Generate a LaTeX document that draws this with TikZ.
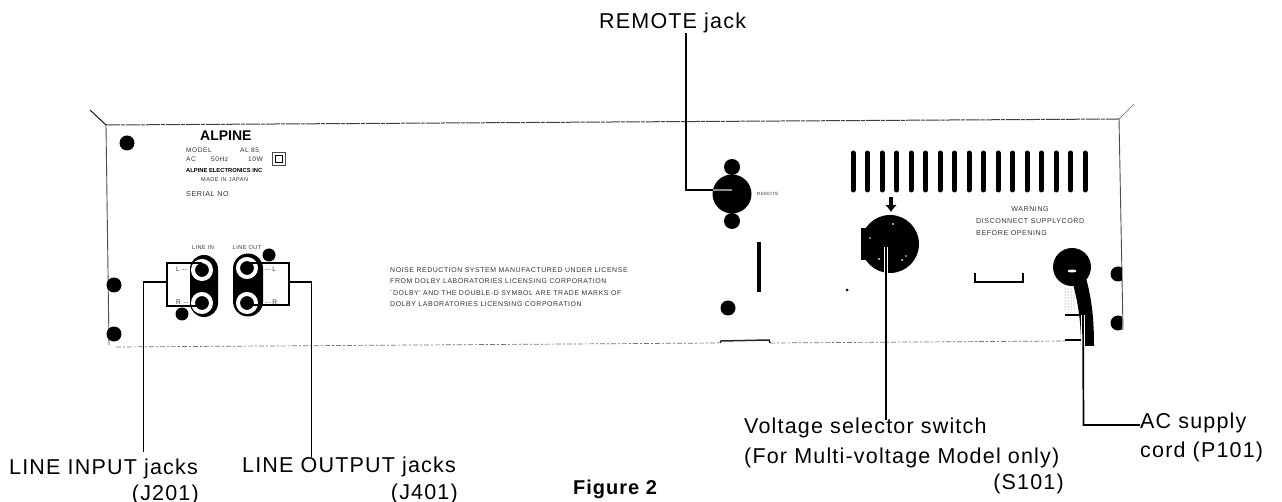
\documentclass[tikz,border=0pt]{standalone}
\usepackage{fontspec}
\usetikzlibrary{arrows.meta,patterns}
\setmainfont{Liberation Sans}
\newfontfamily\lblfont[LetterSpace=5.5]{Liberation Sans}
\newfontfamily\tinyfont[LetterSpace=8]{Liberation Sans}
\newfontfamily\figfont[LetterSpace=5,BoldFont={Liberation Sans Bold}]{Liberation Sans}
\tikzset{
  lbl/.style={inner sep=0pt,font=\lblfont\fontsize{21.5}{22}\selectfont},
  panel/.style={inner sep=0pt,text=black!80,font=\tinyfont\fontsize{6.6}{7}\selectfont},
  conn/.style={draw=black,line width=1.7pt,line join=miter},
  edge line/.style={draw=black!70,line width=0.9pt},
  faint line/.style={draw=black!75,line width=1pt,dash pattern=on 14pt off 1pt on 4pt off 1pt},
  loose line/.style={draw=black!55,line width=0.7pt,dash pattern=on 5pt off 2pt on 2pt off 2pt},
  blob/.style={circle,fill=black,draw=none,inner sep=0pt},
  vent/.style={line width=5pt,line cap=round,draw=black},
  speck/.style={fill=white,draw=none}
}
\begin{document}
\begin{tikzpicture}[x=1pt,y=-1pt]
\useasboundingbox[fill=white] (0,0) rectangle (1282,502);
% panel outline
\coordinate (tl) at (106,125);
\coordinate (tr) at (1119,119);
\coordinate (bl) at (109,345);
\coordinate (br) at (1123,330);
\coordinate (tltick) at (90,110);
\coordinate (trtick) at (1134,104);
\coordinate (bs) at (116,347);
\coordinate (be) at (720,343);
\coordinate (bs2) at (770,343);
\coordinate (be2) at (1065,341);
\draw[faint line] (tl) -- (tr);
\draw[edge line] (tl) -- (bl);
\draw[edge line] (tr) -- (br);
\draw[draw=black,line width=0.9pt] (tltick) -- (tl);
\draw[draw=black!60,line width=0.6pt] (trtick) -- (tr);
\draw[loose line] (bs) -- (be);
\draw[loose line] (bs2) -- (be2);
\draw[draw=black!85,line width=1.5pt] (720,343) -- (721,341) -- (769,340) -- (770,343);
% screws
\node[blob,minimum size=15pt] (s1) at (127,143) {};
\begin{scope}
\clip (100,270) rectangle (122,345);
\node[blob,minimum size=15pt] (s2) at (114,285) {};
\node[blob,minimum size=15pt] (s3) at (114,334) {};
\end{scope}
\begin{scope}
\clip (1100,260) rectangle (1122,335);
\node[blob,minimum size=15pt] (s4) at (1118,274) {};
\node[blob,minimum size=15pt] (s5) at (1118,323) {};
\end{scope}
\node[blob,minimum size=13pt] (s6) at (182,314) {};
\node[blob,minimum size=13pt] (s7) at (269,255) {};
\node[blob,minimum size=15pt] (s8) at (728,308) {};
\node[blob,minimum size=3pt] (s9) at (847,290) {};
% vents
\foreach \i in {0,...,16}{
  \draw[vent] ({853+\i*14.5},153) -- ({853+\i*14.5},190);
}
% badge text
\node[inner sep=0pt,anchor=west,font=\bfseries\fontsize{14}{14}\selectfont] (logo) at (200,135.5) {ALPINE};
\node[panel,anchor=west] (m1) at (186,150) {MODEL};
\node[panel,anchor=west] (m2) at (240,150) {AL 85};
\node[panel,anchor=west] (m3) at (186,159) {AC};
\node[panel,anchor=west] (m4) at (211,159) {50Hz};
\node[panel,anchor=west] (m5) at (248,159) {10W};
\node[draw=black!70,line width=1pt,minimum size=13pt,inner sep=0pt] (dbox) at (279,159) {};
\node[draw=black,line width=0.9pt,minimum size=7pt,inner sep=0pt] (dinner) at (279,159) {};
\node[inner sep=0pt,anchor=west,font=\bfseries\fontsize{5.8}{6}\selectfont] (m6) at (186,171) {ALPINE ELECTRONICS INC};
\node[panel,anchor=west,font=\tinyfont\fontsize{5.6}{6}\selectfont] (m7) at (201,180) {MADE IN JAPAN};
\node[panel,anchor=west,font=\tinyfont\fontsize{7.2}{8}\selectfont] (m8) at (186,194) {SERIAL NO};
% line jacks
\node[panel,font=\tinyfont\fontsize{5.6}{6}\selectfont] (lin) at (203,248) {LINE IN};
\node[panel,font=\tinyfont\fontsize{5.6}{6}\selectfont] (lout) at (247,248) {LINE OUT};
\node[fill=black,draw=none,rounded corners=14pt,minimum width=28pt,minimum height=62pt,inner sep=0pt] (inplate) at (204,286) {};
\node[fill=black,draw=none,rounded corners=15pt,minimum width=30pt,minimum height=63pt,inner sep=0pt] (outplate) at (248,285) {};
\foreach \n/\x/\y in {il/202/270,ir/202/303,ol/247/268,or/247/303}{
  \node[circle,fill=black,draw=white,line width=4pt,minimum size=18pt,inner sep=0pt] (\n) at (\x,\y) {};
}
\node[panel,anchor=west] (tl1) at (176,269) {L --};
\node[panel,anchor=west] (tl2) at (176,302) {R --};
\node[panel,anchor=west] (tl3) at (265,269) {-- L};
\node[panel,anchor=west] (tl4) at (265,302) {-- R};
\coordinate (ola) at (289,263);
\coordinate (olb) at (289,305);
\coordinate (ila) at (167,263);
\coordinate (ilb) at (167,306);
\draw[conn] (247,263) -- (ola) -- (olb) -- (247,305);
\draw[conn] (202,263) -- (ila) -- (ilb) -- (202,306);
% notice
\node[panel,anchor=west,font=\tinyfont\fontsize{6.95}{7}\selectfont] (n1) at (390,270) {NOISE REDUCTION SYSTEM MANUFACTURED UNDER LICENSE};
\node[panel,anchor=west,font=\tinyfont\fontsize{6.95}{7}\selectfont] (n2) at (390,281) {FROM DOLBY LABORATORIES LICENSING CORPORATION};
\node[panel,anchor=west,font=\tinyfont\fontsize{6.95}{7}\selectfont] (n3) at (390,293) {`DOLBY' AND THE DOUBLE-D SYMBOL ARE TRADE MARKS OF};
\node[panel,anchor=west,font=\tinyfont\fontsize{6.95}{7}\selectfont] (n4) at (390,304) {DOLBY LABORATORIES LICENSING CORPORATION};
% remote
\node[blob,minimum size=16pt] (ru) at (732,167) {};
\node[blob,minimum size=16pt] (rd) at (732,221) {};
\node[blob,minimum size=39pt] (remote) at (732,194) {};
\node[panel,anchor=west,font=\tinyfont\fontsize{4.5}{5}\selectfont] (rt) at (757,194) {REMOTE};
\draw[draw=black,line width=4pt] (759,242) -- (759,292);
% selector
\node[blob,minimum size=58pt] (sel) at (890,244) {};
\fill[black] (861,228) rectangle (872,260);
\fill[speck] (893,224) circle (1pt) (870,238) circle (0.8pt) (879,259) circle (1pt) (902,260) circle (1pt) (906,256) circle (0.8pt);
\draw[-{Latex[length=7pt,width=12pt]},line width=4pt] (891,197) -- (891,212);
% warning
\node[panel,font=\tinyfont\fontsize{7.1}{7}\selectfont] (w1) at (1030,209) {WARNING};
\node[panel,anchor=west,font=\tinyfont\fontsize{7.1}{7}\selectfont] (w2) at (976,221) {DISCONNECT SUPPLYCORD};
\node[panel,anchor=west,font=\tinyfont\fontsize{7.1}{7}\selectfont] (w3) at (976,233) {BEFORE OPENING};
\draw[draw=black,line width=1.4pt] (975,273) -- (975,282) -- (1023,282) -- (1023,273);
% plug
\fill[pattern=dots,pattern color=black!60] (1064,285) rectangle (1076,310);
\draw[draw=black,line width=1.5pt] (1065,315) -- (1080,315);
\draw[draw=black,line width=1.5pt] (1065,340) -- (1082,340);
\node[blob,minimum size=38pt] (plug) at (1072,267) {};
\fill[black] (1072,280) .. controls (1076,295) and (1081,315) .. (1081,346) -- (1094,346) .. controls (1094,320) and (1092,300) .. (1086,278) -- cycle;
\fill[white] (1072,271) ellipse (4.5pt and 1.5pt);
% connectors
\coordinate (remtop) at (686,33);
\coordinate (selbot) at (886,420);
\coordinate (cordtop) at (1083,315);
\coordinate (cordlow) at (1083,346);
\coordinate (selin) at (886,247);
\coordinate (selhalo) at (886,276);
\draw[draw=white,line width=3.4pt] (selin) -- (selhalo);
\draw[draw=white,line width=3.4pt] (cordtop) -- (cordlow);
\coordinate (inbot) at (143.5,452);
\coordinate (outbot) at (311.5,457);
\coordinate (inelbow) at (143.5,282);
\coordinate (outelbow) at (311.5,282);
\coordinate (inside) at (167,282);
\coordinate (outside) at (289,282);
\draw[conn] (inside) -- (inelbow) -- (inbot);
\draw[conn] (outside) -- (outelbow) -- (outbot);
\coordinate (remin) at (732,190);
\coordinate (remelbow) at (686,190);
\coordinate (remedge) at (713,190);
\draw[draw=black!45,line width=1.5pt] (remin) -- (remedge);
\draw[conn] (remedge) -- (remelbow) -- (remtop);
\draw[draw=black,line width=1.3pt] (selin) -- (selbot);
\coordinate (cordelbow) at (1083.5,425);
\node[lbl,anchor=base west] (ac) at (1140,428) {AC supply};
\draw[conn] (cordtop) -- (cordelbow) -- (ac.west |- cordelbow);
% labels
\node[lbl,anchor=base west] (rj) at (599,29) {REMOTE jack};
\node[lbl,anchor=base west] (acb) at (1140,457) {cord (P101)};
\node[lbl,anchor=base west] (vs) at (744,433) {Voltage selector switch};
\node[lbl,anchor=base west] (vf) at (744,463) {(For Multi-voltage Model only)};
\node[lbl,anchor=base east] (vn) at (1064,489) {(S101)};
\node[lbl,anchor=base west] (li) at (9,474) {LINE INPUT jacks};
\node[lbl,anchor=base east] (lin2) at (199,500) {(J201)};
\node[lbl,anchor=base west] (lo) at (242,472) {LINE OUTPUT jacks};
\node[lbl,anchor=base east] (lo2) at (458,499) {(J401)};
\node[inner sep=0pt,anchor=base west,font=\figfont\bfseries\fontsize{20}{20}\selectfont] (fig) at (573,494) {Figure 2};
\end{tikzpicture}
\end{document}
